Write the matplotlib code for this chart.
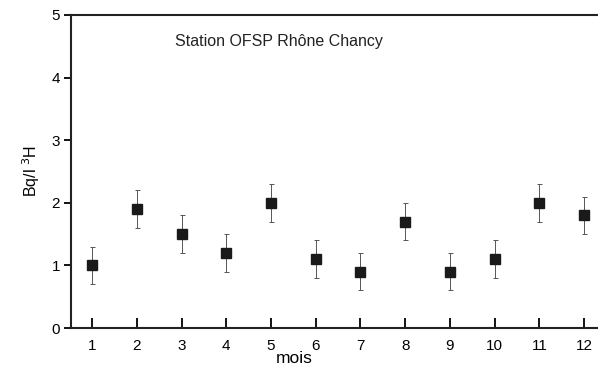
import matplotlib

matplotlib.use("Agg")
import matplotlib.pyplot as plt

plt.rcParams["font.family"] = ["Liberation Sans", "DejaVu Sans"]

# monthly tritium activity, Rhône at Chancy
months = [1, 2, 3, 4, 5, 6, 7, 8, 9, 10, 11, 12]
activity = [1.0, 1.9, 1.5, 1.2, 2.0, 1.1, 0.9, 1.7, 0.9, 1.1, 2.0, 1.8]
uncert = [0.3, 0.3, 0.3, 0.3, 0.3, 0.3, 0.3, 0.3, 0.3, 0.3, 0.3, 0.3]
yticks = [0, 1, 2, 3, 4, 5]

fig = plt.figure(figsize=(5.98, 3.67), dpi=100)
ax = fig.add_axes([71 / 598, 1 - 328 / 367, 1 - 71 / 598, (328 - 15) / 367])

ax.errorbar(months, activity, yerr=uncert, fmt="s", color="#1a1a1a",
            ms=6.5, ecolor="#555555", elinewidth=0.7, capsize=1.8,
            capthick=0.7)

ax.set_xlim(0.53, 12.31)
ax.set_ylim(0, 5)
ax.set_xticks(months)
ax.set_yticks(yticks)
ax.tick_params(axis="x", direction="in", length=7, width=1.3,
               labelsize=11, pad=8)
ax.tick_params(axis="y", direction="out", length=5, width=1.3,
               labelsize=11, pad=3)

for side in ("left", "top", "bottom"):
    ax.spines[side].set_linewidth(1.5)
    ax.spines[side].set_color("#222222")
ax.spines["right"].set_visible(False)

ax.text(0.197, 0.915, "Station OFSP Rhône Chancy", transform=ax.transAxes,
        fontsize=11.5, ha="left", va="center", color="#222222")

ax.set_ylabel("Bq/l $^3$H", fontsize=11.5)
ax.yaxis.set_label_coords(-0.055, 0.5)
ax.set_xlabel("mois", fontsize=12.5)
ax.xaxis.set_label_coords((294 - 71) / (598 - 71), -0.075)

fig.savefig("out.png", dpi=100)
plt.close(fig)
